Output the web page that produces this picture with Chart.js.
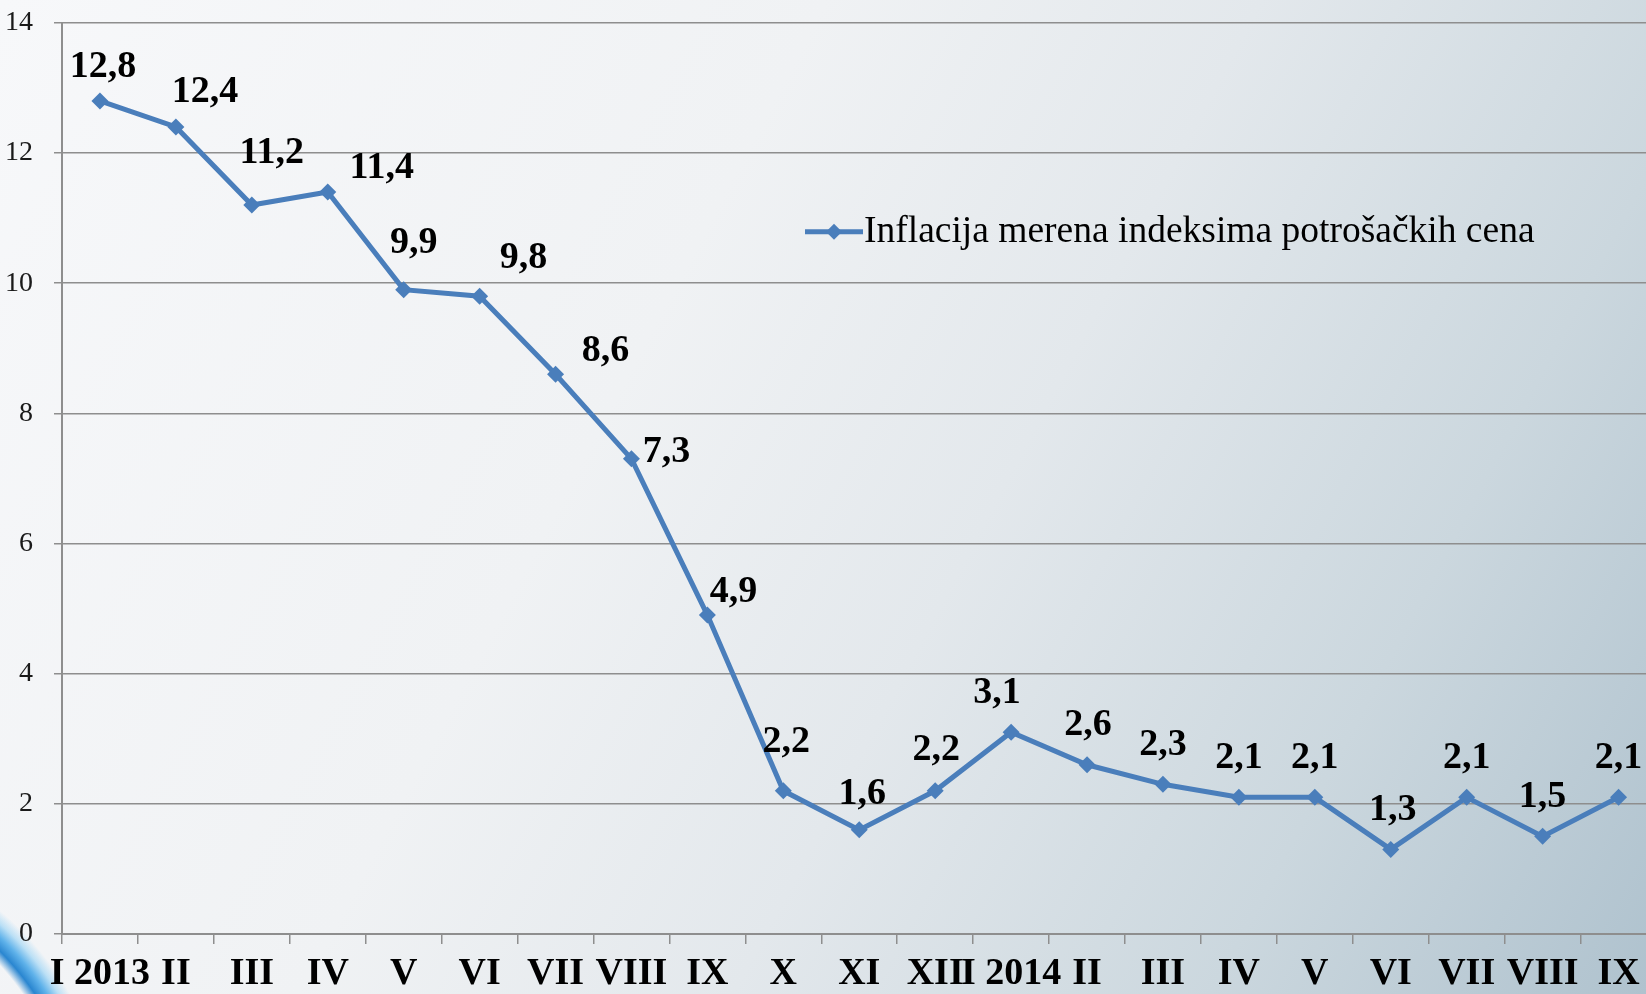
<!DOCTYPE html>
<html>
<head>
<meta charset="utf-8">
<script src="https://cdn.jsdelivr.net/npm/chart.js@4.4.1/dist/chart.umd.min.js"></script>
<style>
  html, body {
    margin: 0;
    padding: 0;
    width: 1646px;
    height: 994px;
    overflow: hidden;
  }
  body {
    position: relative;
    background:
      radial-gradient(circle at -200px 1150px, rgba(0,0,0,0) 272px, #2a86d0 282px, #5fb2ea 292px, rgba(150,210,245,0.6) 302px, rgba(0,0,0,0) 312px),
      linear-gradient(118deg, #f7f8fa 0%, #f0f2f4 38%, #e3e8ec 58%, #cbd7de 80%, #afc2ce 100%);
  }
  #wrap {
    position: absolute;
    left: -21px;
    top: -15px;
    width: 1686px;
    height: 1019px;
  }
</style>
</head>
<body>
<div id="wrap"><canvas id="chart"></canvas></div>
<script>
// podaci
const meseci = ['I 2013', 'II', 'III', 'IV', 'V', 'VI', 'VII', 'VIII', 'IX', 'X', 'XI', 'XII',
                'I 2014', 'II', 'III', 'IV', 'V', 'VI', 'VII', 'VIII', 'IX'];
const inflacija = [12.8, 12.4, 11.2, 11.4, 9.9, 9.8, 8.6, 7.3, 4.9, 2.2, 1.6, 2.2,
                   3.1, 2.6, 2.3, 2.1, 2.1, 1.3, 2.1, 1.5, 2.1];
const nazivSerije = 'Inflacija merena indeksima potrošačkih cena';
const yTicks = [0, 2, 4, 6, 8, 10, 12, 14];

// pomeraj oznaka vrednosti u odnosu na tacku (px)
const pomerajOznaka = [
  [3, -34], [29, -35], [20, -52], [54, -24], [10, -46], [44, -38], [50, -23], [35, -7],
  [26, -23], [3, -49], [3, -36], [1, -41], [-14, -39], [1, -40], [0, -39], [0, -39],
  [0, -39], [2, -39], [0, -39], [0, -39], [0, -39]
];

const PLAVA = '#4a7ebb';
const SERIF = "'Liberation Serif', 'Times New Roman', serif";

const oznakeVrednosti = {
  id: 'oznakeVrednosti',
  afterDatasetsDraw(chart) {
    const ctx = chart.ctx;
    const meta = chart.getDatasetMeta(0);
    ctx.save();
    ctx.font = 'bold 38px ' + SERIF;
    ctx.fillStyle = '#000';
    ctx.textAlign = 'center';
    ctx.textBaseline = 'middle';
    meta.data.forEach((pt, i) => {
      const v = chart.data.datasets[0].data[i];
      const [dx, dy] = pomerajOznaka[i] || [0, -39];
      ctx.fillText(v.toFixed(1).replace('.', ','), pt.x + dx, pt.y + dy);
    });
    ctx.restore();
  }
};

const legenda = {
  id: 'legenda',
  afterDraw(chart) {
    const ctx = chart.ctx;
    const x0 = chart.chartArea.left + 743;
    const y0 = chart.chartArea.top + 209;
    ctx.save();
    ctx.strokeStyle = PLAVA;
    ctx.lineWidth = 5;
    ctx.beginPath();
    ctx.moveTo(x0, y0);
    ctx.lineTo(x0 + 58, y0);
    ctx.stroke();
    ctx.fillStyle = PLAVA;
    ctx.beginPath();
    ctx.moveTo(x0 + 29, y0 - 8);
    ctx.lineTo(x0 + 37, y0);
    ctx.lineTo(x0 + 29, y0 + 8);
    ctx.lineTo(x0 + 21, y0);
    ctx.closePath();
    ctx.fill();
    ctx.font = '37.5px ' + SERIF;
    ctx.fillStyle = '#000';
    ctx.textAlign = 'left';
    ctx.textBaseline = 'middle';
    ctx.fillText(chart.data.datasets[0].label, x0 + 59, y0);
    ctx.restore();
  }
};

const ctx = document.getElementById('chart').getContext('2d');
new Chart(ctx, {
  type: 'line',
  data: {
    labels: meseci,
    datasets: [{
      label: nazivSerije,
      data: inflacija,
      borderColor: PLAVA,
      backgroundColor: PLAVA,
      borderWidth: 5,
      pointStyle: 'rectRot',
      pointRadius: 8.5,
      pointBorderWidth: 0,
      tension: 0
    }]
  },
  options: {
    responsive: true,
    maintainAspectRatio: false,
    animation: false,
    layout: {
      padding: { top: 7, left: 5, right: 0, bottom: 0 }
    },
    plugins: {
      legend: { display: false },
      tooltip: { enabled: false }
    },
    scales: {
      x: {
        offset: true,
        grid: {
          offset: true,
          drawOnChartArea: false,
          drawTicks: true,
          tickLength: 10,
          color: '#8e8e8e',
          lineWidth: 1.5
        },
        border: { color: '#8e8e8e', width: 2 },
        ticks: {
          autoSkip: false,
          maxRotation: 0,
          minRotation: 0,
          padding: 11,
          color: '#000',
          font: { family: SERIF, size: 38, weight: 'bold', lineHeight: 1 }
        }
      },
      y: {
        min: 0,
        max: 14,
        afterBuildTicks(scale) {
          scale.ticks = yTicks.map(v => ({ value: v }));
        },
        grid: {
          color: '#8e8e8e',
          lineWidth: 1.5,
          tickLength: 8
        },
        border: { color: '#8e8e8e', width: 2 },
        ticks: {
          padding: 21,
          color: '#1a1a1a',
          font: { family: SERIF, size: 28 }
        }
      }
    }
  },
  plugins: [oznakeVrednosti, legenda]
});
</script>
</body>
</html>
